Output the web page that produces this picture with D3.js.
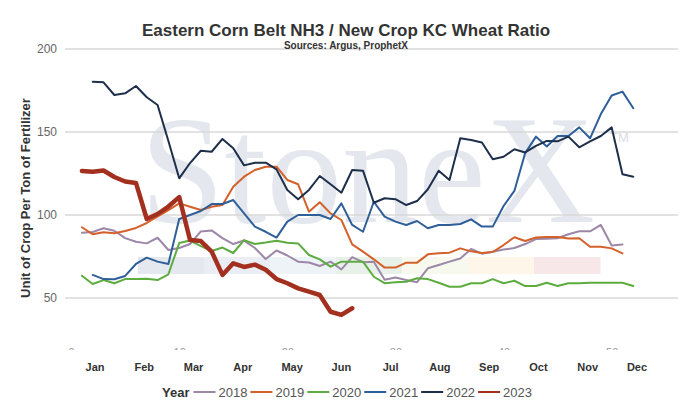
<!DOCTYPE html>
<html>
<head>
<meta charset="utf-8">
<script src="https://cdn.jsdelivr.net/npm/d3@7"></script>
<style>
  body { margin: 0; background: #fff; }
  svg { display: block; font-family: "Liberation Sans", Arial, sans-serif; }
</style>
</head>
<body>
<script>
"use strict";

// ----------------------------------------
//  Data (weekly ratios)
// ----------------------------------------
const years = ["2018", "2019", "2020", "2021", "2022", "2023"];
const colors = ["#9d87a8", "#d4602a", "#5dac3f", "#2f5f98", "#1d2f4b", "#a3301f"];
const widths = [2, 2, 2, 2, 2, 4.5];
const firstWeek = [1, 1, 1, 2, 2, 1];

const v2018 = [89.3, 89.8, 92.0, 90.5, 86.1, 83.9, 82.9, 86.3, 78.9, 80.1, 82.5, 90.1, 90.7, 86.1, 82.5, 84.6, 80.1,
  73.5, 78.6, 75.6, 71.9, 71.4, 69.3, 71.9, 67.2, 74.6, 71.6, 71.9, 61.0, 62.3, 60.8, 59.5, 67.9, 69.9, 71.9, 73.8,
  79.5, 76.7, 77.9, 79.2, 80.1, 82.5, 85.5, 85.7, 86.0, 88.4, 90.2, 90.2, 94.0, 81.6, 82.3];
const v2019 = [92.6, 88.4, 89.6, 89.0, 90.4, 92.2, 95.2, 99.1, 103.0, 107.0, 105.0, 103.0, 105.0, 106.0, 117.0, 123.1,
  127.1, 129.1, 129.1, 121.1, 118.5, 102.0, 107.7, 101.0, 97.0, 82.3, 77.9, 73.3, 68.3, 68.3, 71.3, 71.3, 76.3, 76.9,
  77.3, 79.9, 78.1, 77.1, 77.7, 81.9, 86.6, 84.3, 86.4, 86.7, 86.7, 85.8, 86.0, 80.9, 80.9, 79.9, 76.9];
const v2020 = [63.4, 58.4, 60.8, 58.9, 61.4, 61.4, 61.6, 60.8, 64.3, 83.1, 84.6, 81.3, 78.3, 80.4, 77.1, 84.9, 82.5,
  83.4, 84.5, 83.3, 82.9, 75.9, 73.3, 68.9, 71.9, 71.9, 71.9, 62.8, 58.9, 59.5, 59.8, 61.9, 61.4, 59.2, 56.8, 56.8,
  58.9, 58.9, 61.4, 58.9, 60.4, 57.2, 57.2, 59.2, 57.2, 58.9, 58.9, 59.2, 59.2, 59.2, 59.2, 57.2];
const v2021 = [63.9, 61.4, 61.3, 63.3, 70.5, 74.3, 71.9, 70.5, 97.6, 100.0, 102.4, 106.6, 106.6, 109.0, 101.0, 93.0,
  89.9, 86.4, 96.0, 100.0, 100.0, 100.0, 97.6, 107.0, 94.0, 89.9, 108.0, 99.0, 96.0, 94.0, 96.4, 92.0, 94.0, 94.0,
  94.6, 97.4, 93.0, 93.0, 105.4, 114.5, 137.3, 147.2, 141.3, 147.6, 147.6, 152.8, 146.2, 160.8, 172.0, 174.3, 164.3];
const v2022 = [180.3, 179.9, 172.3, 173.3, 177.7, 170.9, 166.3, 144.6, 122.1, 131.3, 138.7, 138.1, 145.8, 140.2, 129.9,
  131.5, 131.5, 127.5, 115.1, 109.5, 115.1, 123.5, 118.5, 113.4, 127.1, 126.7, 107.4, 110.1, 109.5, 106.0, 108.4, 115.5,
  126.7, 121.1, 146.2, 145.2, 143.7, 133.6, 135.1, 139.6, 137.7, 141.6, 144.6, 144.4, 147.2, 140.8, 144.3, 147.6,
  152.8, 124.5, 123.1];
const v2023 = [126.5, 126.1, 126.8, 122.9, 120.2, 119.3, 97.6, 100.6, 105.1, 110.8, 84.9, 84.3, 78.0, 63.9, 70.9, 68.7,
  70.1, 67.0, 61.4, 58.9, 55.8, 53.8, 51.8, 41.7, 39.8, 43.8];
const values = [v2018, v2019, v2020, v2021, v2022, v2023];

const months = ["Jan", "Feb", "Mar", "Apr", "May", "Jun", "Jul", "Aug", "Sep", "Oct", "Nov", "Dec"];
const yTicks = [50, 100, 150, 200];
const weekTicks = [0, 10, 20, 30, 40, 50];

const series = years.map(function(yr, i) {
  return {
    year: yr, color: colors[i], width: widths[i],
    points: values[i].map(function(v, j) { return { week: firstWeek[i] + j, value: v }; })
  };
});

// ----------------------------------------
//  Setup
// ----------------------------------------
const W = 692, H = 408;
const svg = d3.select("body").append("svg").attr("width", W).attr("height", H);

const x = d3.scaleLinear().domain([1, 52]).range([81.9, 633.3]);
const y = d3.scaleLinear().domain([0, 200]).range([381, 49]);
const xm = d3.scalePoint().domain(months).range([95, 637]);

svg.append("defs").append("clipPath").attr("id", "plotclip")
  .append("rect").attr("x", 0).attr("y", 40).attr("width", W).attr("height", 310);

// watermark
const wm = svg.append("g");
const blockColors = ["#e5e8ee", "#eaedf3", "#eef3f8", "#e8f0ea", "#f7f9ee", "#fdf6e9", "#f7e7e8"];
const bx = d3.scaleBand().domain(d3.range(blockColors.length)).range([138, 600]);
wm.selectAll("rect").data(blockColors).enter().append("rect")
  .attr("x", function(d, i) { return bx(i); })
  .attr("y", 257).attr("width", bx.bandwidth() + 0.5).attr("height", 17)
  .attr("fill", function(d) { return d; });
wm.append("text").attr("x", 140).attr("y", 222)
  .attr("font-family", "'Liberation Serif', 'DejaVu Serif', serif")
  .attr("font-size", 154).attr("fill", "#e4e7ed")
  .attr("textLength", 455).attr("lengthAdjust", "spacingAndGlyphs")
  .text("StoneX");
wm.append("text").attr("x", 610).attr("y", 142)
  .attr("font-size", 13).attr("fill", "#d9dde4").text("TM");

// gridlines + y labels
const yAxis = svg.append("g");
yAxis.selectAll("line").data(yTicks).enter().append("line")
  .attr("x1", 65).attr("x2", 678)
  .attr("y1", function(d) { return y(d); }).attr("y2", function(d) { return y(d); })
  .attr("stroke", "#d8d8d8").attr("stroke-width", 1.5);
yAxis.selectAll("text").data(yTicks).enter().append("text")
  .attr("x", 57).attr("y", function(d) { return y(d) + 4; })
  .attr("text-anchor", "end").attr("font-size", 12).attr("fill", "#666")
  .text(function(d) { return d; });

// week axis, mostly hidden below plot edge
const plot = svg.append("g").attr("clip-path", "url(#plotclip)");
const wk = plot.append("g").attr("transform", "translate(0,345.5)")
  .call(d3.axisBottom(x).tickValues(weekTicks).tickSize(0).tickPadding(3));
wk.select(".domain").remove();
wk.selectAll("text").attr("font-size", 11).attr("fill", "#999").attr("font-family", "Liberation Sans, sans-serif");

// lines
const line = d3.line()
  .x(function(d) { return x(d.week); })
  .y(function(d) { return y(d.value); });

plot.selectAll(".series").data(series).enter().append("path")
  .attr("class", "series")
  .attr("d", function(d) { return line(d.points); })
  .attr("fill", "none")
  .attr("stroke", function(d) { return d.color; })
  .attr("stroke-width", function(d) { return d.width; })
  .attr("stroke-linejoin", "round").attr("stroke-linecap", "round");

// month labels
svg.append("g").selectAll("text").data(months).enter().append("text")
  .attr("x", function(d) { return xm(d); }).attr("y", 370.5)
  .attr("text-anchor", "middle").attr("font-size", 11).attr("font-weight", "bold").attr("fill", "#333")
  .text(function(d) { return d; });

// titles
svg.append("text").attr("x", 346).attr("y", 36).attr("text-anchor", "middle")
  .attr("font-size", 17).attr("font-weight", "bold").attr("fill", "#333")
  .text("Eastern Corn Belt NH3 / New Crop KC Wheat Ratio");
svg.append("text").attr("x", 346).attr("y", 49).attr("text-anchor", "middle")
  .attr("font-size", 10).attr("font-weight", "bold").attr("fill", "#333")
  .text("Sources: Argus, ProphetX");
svg.append("text").attr("transform", "translate(30,198) rotate(-90)").attr("text-anchor", "middle")
  .attr("font-size", 13).attr("font-weight", "bold").attr("fill", "#333")
  .text("Unit of Crop Per Ton of Fertilizer");

// legend
const legend = svg.append("g").attr("transform", "translate(0,397)");
let lx = 162;
const yearLabel = legend.append("text").attr("x", lx).attr("y", 0)
  .attr("font-size", 13).attr("font-weight", "bold").attr("fill", "#333").text("Year");
lx += yearLabel.node().getComputedTextLength() + 4;
series.forEach(function(s) {
  legend.append("line").attr("x1", lx).attr("x2", lx + 22).attr("y1", -5).attr("y2", -5)
    .attr("stroke", s.color).attr("stroke-width", 2);
  lx += 25;
  const t = legend.append("text").attr("x", lx).attr("y", 0)
    .attr("font-size", 13).attr("fill", "#555").text(s.year);
  lx += t.node().getComputedTextLength() + 3;
});
</script>
</body>
</html>
